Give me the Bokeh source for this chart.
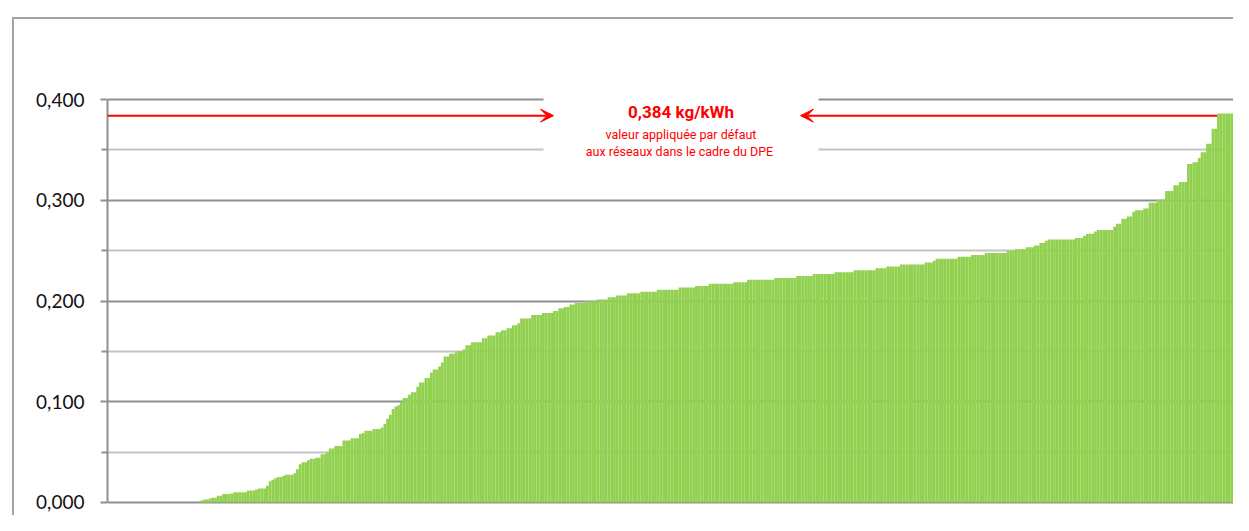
from bokeh.plotting import figure
from bokeh.models import (Range1d, FixedTicker, CustomJSTickFormatter, Arrow, VeeHead, Label)
from bokeh.embed import file_html
from bokeh.resources import INLINE

# ---- data, stored as runs of equal sorted values ----
run_values = [
    0.0, 0.0013, 0.002, 0.003, 0.004, 0.0048, 0.0067, 0.0083, 0.009, 0.0102,
    0.012, 0.013, 0.014, 0.0165, 0.021, 0.0225, 0.024, 0.0254, 0.0265, 0.0276,
    0.029, 0.033, 0.038, 0.040, 0.0418, 0.0435, 0.0445, 0.048, 0.0498, 0.0536,
    0.056, 0.0616, 0.0638, 0.068, 0.069, 0.0711, 0.073, 0.0745, 0.0778, 0.083,
    0.087, 0.0927, 0.095, 0.0965, 0.100, 0.1038, 0.107, 0.1095, 0.115, 0.119,
    0.1235, 0.129, 0.132, 0.135, 0.139, 0.145, 0.1476, 0.149, 0.150, 0.152,
    0.156, 0.159, 0.163, 0.1657, 0.169, 0.171, 0.173, 0.176, 0.178, 0.1826,
    0.186, 0.188, 0.190, 0.1927, 0.194, 0.1965, 0.198, 0.1997, 0.2016, 0.2038,
    0.2054, 0.2076, 0.2092, 0.2111, 0.2133, 0.215, 0.2171, 0.2187, 0.221, 0.2229,
    0.2248, 0.2267, 0.2286, 0.2305, 0.2324, 0.2343, 0.2362, 0.2381, 0.240, 0.2419,
    0.2438, 0.2457, 0.2476, 0.2498, 0.2514, 0.2533, 0.2552, 0.2575, 0.2597, 0.261,
    0.2625, 0.2648, 0.2667, 0.2689, 0.2705, 0.2737, 0.2768, 0.2816, 0.2838, 0.2886,
    0.290, 0.2917, 0.2975, 0.3006, 0.3092, 0.315, 0.318, 0.336, 0.3378, 0.342,
    0.3476, 0.356, 0.371, 0.386,
]
run_counts = [
    33, 1, 1, 2, 1, 2, 2, 3, 1, 5,
    3, 1, 3, 1, 1, 1, 1, 2, 1, 3,
    1, 1, 1, 2, 1, 2, 2, 2, 1, 2,
    3, 3, 3, 1, 1, 3, 3, 1, 1, 1,
    1, 1, 1, 1, 1, 2, 1, 2, 1, 2,
    2, 1, 2, 1, 1, 2, 2, 1, 2, 1,
    2, 4, 2, 3, 2, 2, 2, 2, 1, 4,
    4, 4, 2, 2, 2, 2, 4, 4, 4, 3,
    4, 5, 6, 8, 6, 5, 9, 5, 10, 8,
    6, 8, 7, 8, 4, 5, 9, 3, 1, 8,
    5, 5, 8, 3, 4, 3, 2, 2, 1, 10,
    3, 1, 3, 1, 6, 1, 2, 2, 2, 1,
    3, 2, 3, 3, 3, 2, 3, 2, 2, 1,
    2, 2, 2, 6,
]
values = [v for v, n in zip(run_values, run_counts) for _ in range(n)]
positions = [i + 0.5 for i in range(len(values))]

default_value = 0.384
y_ticks = [0.0, 0.1, 0.2, 0.3, 0.4]
y_minor = [0.05, 0.15, 0.25, 0.35]
label_main = "0,384 kg/kWh"
label_line1 = "valeur appliquée par défaut"
label_line2 = "aux réseaux  dans le cadre du DPE"

GREEN = "#92d050"
RED = "#ff0000"
MAJOR = "#8f8f8f"
MINOR = "#c3c3c3"
FRAME = "#a3a3a3"

W, H = 1233, 515
LEFT, TOP, BOTTOM = 107, 97, 11
n = len(values)
frame_w = W - LEFT
px = lambda page_x: (page_x - LEFT) * n / frame_w   # page pixel -> bar axis (for annotations)

p = figure(width=W, height=H, x_range=Range1d(0, n), y_range=Range1d(-0.002, 0.402),
           output_backend="svg", toolbar_location=None,
           min_border_left=LEFT, min_border_right=0, min_border_top=TOP,
           min_border_bottom=BOTTOM)
p.outline_line_color = None
p.background_fill_color = "white"
p.border_fill_color = None
# outer chart-area frame (only its top and left edges are in view)
p.styles = {
    "background": (f"linear-gradient({FRAME},{FRAME}) 12px 17px / 2px 2000px no-repeat, "
                   f"linear-gradient({FRAME},{FRAME}) 12px 17px / 3000px 2px no-repeat, #ffffff"),
}

p.xaxis.visible = False
p.xgrid.visible = False

yax = p.yaxis[0]
yax.ticker = FixedTicker(ticks=y_ticks, minor_ticks=y_minor)
yax.formatter = CustomJSTickFormatter(code="return tick.toFixed(3).replace('.', ',');")
yax.bounds = (0, 0.4)
yax.axis_line_color = MAJOR
yax.axis_line_width = 2
yax.major_tick_line_color = MAJOR
yax.major_tick_line_width = 2
yax.major_tick_out = 7
yax.major_tick_in = 0
yax.minor_tick_line_color = MAJOR
yax.minor_tick_line_width = 2
yax.minor_tick_out = 6
yax.minor_tick_in = 0
yax.major_label_text_font = "Lato"
yax.major_label_text_font_size = "19px"
yax.major_label_text_color = "#111111"
yax.major_label_standoff = 16

p.ygrid.grid_line_color = MAJOR
p.ygrid.grid_line_width = 2
p.ygrid.minor_grid_line_color = MINOR
p.ygrid.minor_grid_line_width = 2

# white box behind the annotation text (interrupts the gridlines)
box_left, box_right = px(543), px(818)
p.quad(left=[box_left], right=[box_right], bottom=[0.342], top=[0.41],
       fill_color="white", line_color=None)

# bars
p.vbar(x=positions, top=values, width=1.0, fill_color=GREEN, line_color=None)

# arrows at the default value
first_default = next(i for i, v in enumerate(values) if v >= default_value)
p.add_layout(Arrow(x_start=0, y_start=default_value, x_end=px(553), y_end=default_value,
                   line_color=RED, line_width=2,
                   end=VeeHead(size=13, fill_color=RED, line_color=RED, line_width=1)))
p.add_layout(Arrow(x_start=first_default, y_start=default_value, x_end=px(800),
                   y_end=default_value, line_color=RED, line_width=2,
                   end=VeeHead(size=13, fill_color=RED, line_color=RED, line_width=1)))

cx = px(680.5)
FONT = "Roboto"
p.add_layout(Label(x=cx, y=0.3876, text=label_main, text_align="center",
                   text_baseline="middle", text_font=FONT,
                   text_font_style="bold", text_font_size="17px", text_color=RED))
p.add_layout(Label(x=cx, y=0.3653, text=label_line1, text_align="center",
                   text_baseline="middle", text_font=FONT,
                   text_font_size="12.5px", text_color=RED))
p.add_layout(Label(x=cx, y=0.3484, text=label_line2, text_align="center",
                   text_baseline="middle", text_font=FONT,
                   text_font_size="12.5px", text_color=RED))

open("out.html", "w").write(file_html(p, INLINE))
